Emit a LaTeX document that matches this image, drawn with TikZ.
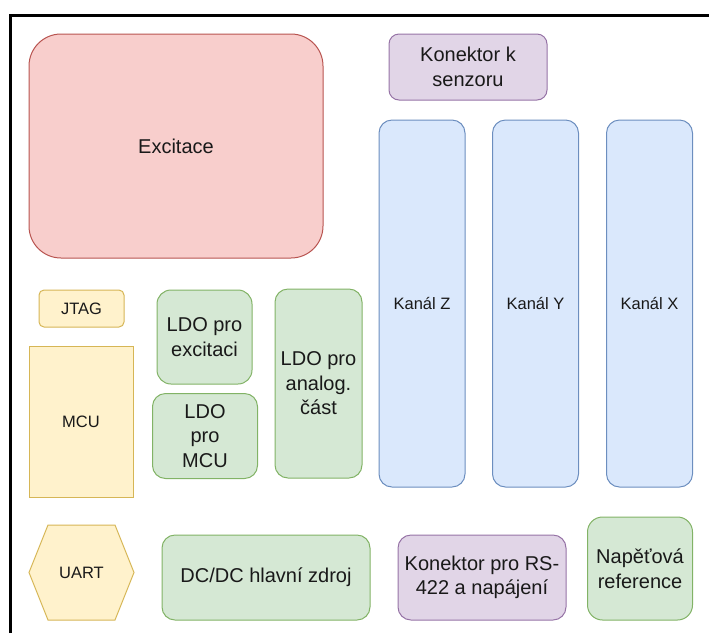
\documentclass[tikz,border=0pt]{standalone}
\usepackage{fontspec}
\setmainfont{Liberation Sans}
\usepackage{tikz}
\usepackage{xcolor}

\definecolor{redfill}{HTML}{F8CECC}
\definecolor{redline}{HTML}{B85450}
\definecolor{purplefill}{HTML}{E1D5E7}
\definecolor{purpleline}{HTML}{9673A6}
\definecolor{bluefill}{HTML}{DAE8FC}
\definecolor{blueline}{HTML}{6C8EBF}
\definecolor{yellowfill}{HTML}{FFF2CC}
\definecolor{yellowline}{HTML}{D6B656}
\definecolor{greenfill}{HTML}{D5E8D4}
\definecolor{greenline}{HTML}{82B366}

\begin{document}
\begin{tikzpicture}[x=1pt,y=-1pt]

    % --- Global Settings ---
    \tikzset{
        blok/.style={draw, line width=1pt, align=center, inner sep=0pt, text=black!90,
            font=\fontsize{20}{24.5}\selectfont},
        mensi/.style={font=\fontsize{16.5}{20}\selectfont},
        cervena/.style={fill=redfill, draw=redline},
        fialova/.style={fill=purplefill, draw=purpleline},
        modra/.style={fill=bluefill, draw=blueline},
        zluta/.style={fill=yellowfill, draw=yellowline},
        zelena/.style={fill=greenfill, draw=greenline}
    }

    \useasboundingbox (0,0) rectangle (709,633);

    % --- Frame ---
    \draw[line width=3pt] (10.8,633) -- (10.8,15.8) -- (709,15.8);

    % --- Excitation and sensor connector ---
    \node[blok, cervena, rounded corners=32pt, minimum width=294pt, minimum height=224pt]
        (excitace) at (176,146) {Excitace};
    \node[blok, fialova, rounded corners=10pt, minimum width=158pt, minimum height=66pt]
        (konektorSenzor) at (468,67) {Konektor k\\senzoru};

    % --- Channels ---
    \foreach \k/\x in {Z/422, Y/535.5, X/649.5} {
        \node[blok, modra, mensi, rounded corners=13pt, minimum width=86pt, minimum height=367pt]
            (kanal\k) at (\x,303.5) {Kanál \k};
    }

    % --- MCU part ---
    \node[blok, zluta, mensi, rounded corners=5pt, minimum width=85pt, minimum height=37pt]
        (jtag) at (81.5,308.5) {JTAG};
    \node[blok, zluta, mensi, minimum width=104pt, minimum height=151pt]
        (mcu) at (81,421.5) {MCU};
    \draw[zluta, line width=1pt] (29,572.5) -- (48,525) -- (115,525) -- (134,572.5)
        -- (115,620) -- (48,620) -- cycle;
    \node[mensi, text=black!90] (uart) at (81.5,572.5) {UART};

    % --- LDO regulators ---
    \node[blok, zelena, rounded corners=14pt, minimum width=95pt, minimum height=94pt]
        (ldoExcitace) at (204.5,337) {LDO pro\\excitaci};
    \node[blok, zelena, rounded corners=13pt, minimum width=105pt, minimum height=85pt]
        (ldoMcu) at (205,436) {LDO\\pro\\MCU};
    \node[blok, zelena, rounded corners=13pt, minimum width=87pt, minimum height=189pt]
        (ldoAnalog) at (318.5,383.5) {LDO pro\\analog.\\část};

    % --- Bottom row ---
    \node[blok, zelena, rounded corners=13pt, minimum width=208pt, minimum height=85pt]
        (dcdc) at (266,577.5) {DC/DC hlavní zdroj};
    \node[blok, fialova, rounded corners=13pt, minimum width=168pt, minimum height=85pt]
        (konektorRs) at (482,577.5) {Konektor pro RS-\\422 a napájení};
    \node[blok, zelena, rounded corners=15pt, minimum width=105pt, minimum height=103pt]
        (reference) at (640,568.5) {Napěťová\\reference};

\end{tikzpicture}
\end{document}
